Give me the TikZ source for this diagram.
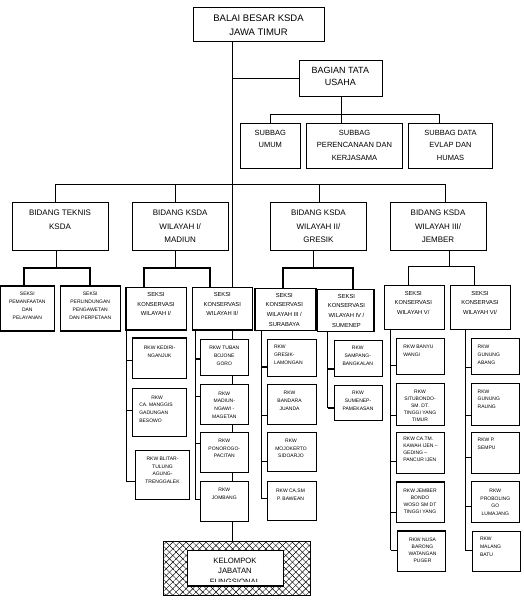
\documentclass[tikz,border=0pt]{standalone}
\usepackage{fontspec}
\setmainfont{Liberation Sans}
\usetikzlibrary{patterns.meta}
\newcommand\mkbox[9]{%
  \pgfmathsetmacro\bxw{#5-#3}\pgfmathsetmacro\bxh{#6-#4}%
  \node[#2,minimum width=\bxw pt,minimum height=\bxh pt,anchor=north west] (#1) at (#3,#4) {};
  \node[#7] (#1t) at #8 {#9};}
\newcommand\stub[5]{\coordinate (#1) at (#2,#3); \draw[#5] (#1) -- (#1 -| #4.west);}
\begin{document}
\begin{tikzpicture}[x=1pt,y=-1pt,
  box/.style={draw=black,line width=0.9pt,inner sep=0pt,outer sep=0pt,fill=white},
  sbox/.style={box,line width=1.3pt},
  ln/.style={line width=0.9pt},
  thk/.style={line width=1.7pt},
  txt/.style={inner sep=0pt,outer sep=0pt,align=center,anchor=north,yshift=-1.4pt},
  ltxt/.style={inner sep=0pt,outer sep=0pt,align=left,anchor=north west,yshift=-1.4pt},
  ttl/.style={txt,font=\fontsize{9.5}{13.3}\selectfont},
  btu/.style={txt,font=\fontsize{9}{11.7}\selectfont},
  sbg/.style={txt,font=\fontsize{7.5}{12.2}\selectfont},
  bdg/.style={txt,font=\fontsize{8}{13.3}\selectfont},
  skp/.style={txt,font=\fontsize{5}{7.9}\selectfont},
  sks/.style={txt,font=\fontsize{5.8}{9.6}\selectfont},
  rkw/.style={txt,font=\fontsize{5}{7.7}\selectfont},
  rkwl/.style={ltxt,font=\fontsize{5}{7.7}\selectfont},
  rkwn/.style={txt,font=\fontsize{5}{7.1}\selectfont},
  rkwln/.style={ltxt,font=\fontsize{5}{7}\selectfont},
  kel/.style={txt,font=\fontsize{7.7}{10.4}\selectfont},
]
\useasboundingbox[fill=white] (0,0) rectangle (523,602);

% top levels
\mkbox{top}{box}{193}{7.3}{324}{41.3}{ttl}{(258.5,13.9)}{BALAI BESAR KSDA\\JAWA TIMUR}
\mkbox{btu}{box}{299}{60.3}{382.3}{96.3}{btu}{(340.3,66.1)}{BAGIAN TATA\\USAHA}
\mkbox{sub1}{box}{240.3}{123.3}{300.3}{168.3}{sbg}{(270.3,129)}{SUBBAG\\UMUM}
\mkbox{sub2}{box}{306.3}{123.3}{402.7}{168.3}{sbg}{(354.5,129)}{SUBBAG\\PERENCANAAN DAN\\KERJASAMA}
\mkbox{sub3}{box}{408.3}{123.3}{492.7}{168.3}{sbg}{(450.5,129)}{SUBBAG DATA\\EVLAP DAN\\HUMAS}

% bidang
\mkbox{bt}{box}{12.3}{202.3}{108.3}{250.3}{bdg}{(60,208.8)}{BIDANG TEKNIS\\KSDA}
\mkbox{b1}{box}{132.3}{202.3}{228.3}{250.3}{bdg}{(180.2,208.8)}{BIDANG KSDA\\WILAYAH I/\\MADIUN}
\mkbox{b2}{box}{270.7}{202.3}{366.7}{250.3}{bdg}{(318.4,208.8)}{BIDANG KSDA\\WILAYAH II/\\GRESIK}
\mkbox{b3}{box}{390.3}{202.3}{486.7}{250.3}{bdg}{(438,208.8)}{BIDANG KSDA\\WILAYAH III/\\JEMBER}

% seksi
\mkbox{s1}{sbox}{0.8}{286}{54.3}{331}{skp}{(27.3,290.9)}{SEKSI\\PEMANFAATAN\\DAN\\PELAYANAN}
\mkbox{s2}{sbox}{60.3}{286}{120.3}{331}{skp}{(90.2,290.9)}{SEKSI\\PERLINDUNGAN\\PENGAWETAN\\DAN PERPETAAN}
\mkbox{s3}{sbox}{126}{287.3}{186.7}{330}{sks}{(156,291.2)}{SEKSI\\KONSERVASI\\WILAYAH I/}
\mkbox{s4}{sbox}{192.3}{287.3}{252.7}{330}{sks}{(222.3,291.2)}{SEKSI\\KONSERVASI\\WILAYAH II/}
\mkbox{s5}{sbox}{255}{288.3}{316}{330.7}{sks}{(284.3,291.9)}{SEKSI\\KONSERVASI\\WILAYAH III /\\SURABAYA}
\mkbox{s6}{sbox}{317.7}{289.3}{374}{331.7}{sks}{(346.5,292.9)}{SEKSI\\KONSERVASI\\WILAYAH IV /\\SUMENEP}
\mkbox{s7}{box}{384.3}{285}{444.3}{329.3}{sks}{(413.3,289.6)}{SEKSI\\KONSERVASI\\WILAYAH V/}
\mkbox{s8}{box}{450.7}{285}{510.7}{329.3}{sks}{(480,289.6)}{SEKSI\\KONSERVASI\\WILAYAH VI/}

% RKW wilayah I
\mkbox{k1}{box}{132.3}{338.3}{186.7}{378.3}{rkw}{(159.5,344.9)}{RKW KEDIRI-\\NGANJUK}
\mkbox{k2}{box}{132.3}{388.3}{186.7}{436.7}{rkwl}{(139.3,394.2)}{\hspace*{12pt}RKW\\CA. MANGGIS\\GADUNGAN\\BESOWO}
\mkbox{k3}{box}{135.7}{450}{189.3}{499.3}{rkw}{(162.5,455.5)}{RKW BLITAR-\\TULUNG\\AGUNG-\\TRENGGALEK}
% RKW wilayah II
\mkbox{m1}{box}{200.3}{339.3}{248.3}{375.7}{rkw}{(224.3,344.9)}{RKW TUBAN\\BOJONE\\GORO}
\mkbox{m2}{box}{200.3}{384.3}{248.3}{424.3}{rkw}{(224.3,390.2)}{RKW\\MADIUN-\\NGAWI -\\MAGETAN}
\mkbox{m3}{box}{200.3}{432.3}{248.3}{472.3}{rkw}{(224.3,437.5)}{RKW\\PONOROGO-\\PACITAN}
\mkbox{m4}{box}{200.3}{481}{248.3}{521}{rkw}{(224.3,486.5)}{RKW\\JOMBANG}
% RKW wilayah III
\mkbox{g1}{box}{267.3}{339.3}{316}{376.7}{rkwl}{(274,343.9)}{RKW\\GRESIK-\\LAMONGAN}
\mkbox{g2}{box}{267.3}{384.3}{316}{424.3}{rkw}{(289.5,389.9)}{RKW\\BANDARA\\JUANDA}
\mkbox{g3}{box}{267.3}{432.3}{316}{471.7}{rkw}{(291,437.5)}{RKW\\MOJOKERTO\\SIDOARJO}
\mkbox{g4}{box}{267.3}{481}{316}{520}{rkw}{(290.5,487.5)}{RKW CA.SM\\P. BAWEAN}
% RKW wilayah IV
\mkbox{p1}{box}{334.3}{340}{382.3}{376.7}{rkw}{(357.8,344.9)}{RKW\\SAMPANG-\\BANGKALAN}
\mkbox{p2}{box}{334.3}{385.7}{382.3}{420.7}{rkw}{(358,389.9)}{RKW\\SUMENEP-\\PAMEKASAN}
% RKW wilayah V
\mkbox{j1}{box}{396}{338.3}{444.3}{374.3}{rkwl}{(403.3,343.9)}{RKW BANYU\\WANGI}
\mkbox{j2}{box}{396}{383.3}{444.3}{425}{rkwn}{(420,388.2)}{RKW\\SITUBONDO-\\SM. DT.\\TINGGI YANG\\TIMUR}
\mkbox{j3}{box}{396}{432.3}{444.3}{473.3}{rkwln}{(403.3,435.9)}{RKW CA.TM.\\KAWAH IJEN –\\GEDING –\\PANCUR IJEN}
\mkbox{j4}{box}{396}{481.7}{444.3}{522.3}{rkwn}{(420,487.5)}{RKW JEMBER\\BONDO\\WOSO SM DT\\TINGGI YANG}
\mkbox{j5}{box}{397.3}{531}{445.7}{571}{rkwn}{(422.5,536.5)}{RKW NUSA\\BARONG\\WATANGAN\\PUGER}
% RKW wilayah VI
\mkbox{v1}{box}{471.7}{338.3}{519.3}{374.3}{rkwl}{(477.7,343.9)}{RKW\\GUNUNG\\ABANG}
\mkbox{v2}{box}{471.7}{383.3}{519.3}{425}{rkwl}{(477.7,388.2)}{RKW\\GUNUNG\\RAUNG}
\mkbox{v3}{box}{471.7}{432.3}{519.3}{473.3}{rkwl}{(477.7,436.5)}{RKW P.\\SEMPU}
\mkbox{v4}{box}{471.7}{481.7}{519.3}{522.3}{rkw}{(495.3,487.5)}{RKW\\PROBOLING\\GO\\LUMAJANG}
\mkbox{v5}{box}{472.3}{531}{520}{571}{rkwl}{(480,535.9)}{RKW\\MALANG\\BATU}

% thick top edges
\draw[thk] (k1.north west) -- (k1.north east);
\draw[thk] (j4.north west) -- (j4.north east);
\draw[thk] (j5.north west) -- (j5.north east);

% kelompok
\node[draw=black,line width=0.9pt,minimum width=146.7pt,minimum height=53.3pt,anchor=north west,inner sep=0pt,outer sep=0pt,
  pattern={Lines[angle=45,distance=4.7pt,line width=0.45pt]},
  postaction={pattern={Lines[angle=-45,distance=4.7pt,line width=0.45pt]}}] (kel) at (163.3,541.7) {};
\node[box,line width=1.2pt,minimum width=95.6pt,minimum height=35.3pt,anchor=north west] (kin) at (187.7,550.7) {};
\begin{scope}
\clip (188.5,551.5) rectangle (282.5,581.2);
\node[kel] (kint) at (235,556.5) {KELOMPOK\\JABATAN\\FUNGSIONAL};
\end{scope}

% main spine
\coordinate (sp) at (232.5,0);
\draw[ln] (top.south -| sp) -- (s4.north -| sp);
\draw[ln] (s4.south -| sp) -- (m1.north -| sp);
\draw[ln] (m1.south -| sp) -- (m2.north -| sp);
\draw[ln] (m2.south -| sp) -- (m3.north -| sp);
\draw[ln] (m3.south -| sp) -- (m4.north -| sp);
\draw[ln] (m4.south -| sp) -- (kel.north -| sp);
\draw[ln] (btu.west -| sp) -- (btu.west);

% tata usaha
\coordinate (tu) at (341.7,114.3);
\coordinate (sb1) at (270.7,114.3);
\coordinate (sb3) at (439.3,114.3);
\draw[ln] (btu.south -| tu) -- (sub2.north -| tu);
\draw[ln] (sb1 |- sub1.north) -- (sb1) -- (sb3) -- (sb3 |- sub3.north);

% bidang bus
\coordinate (bb1) at (55.3,184);
\coordinate (bb2) at (175.3,184);
\coordinate (bb3) at (319,184);
\coordinate (bb4) at (445,184);
\draw[ln] (bt.north -| bb1) -- (bb1) -- (bb4) -- (b3.north -| bb4);
\draw[ln] (bb2) -- (b1.north -| bb2);
\draw[ln] (bb3) -- (b2.north -| bb3);

% seksi buses
\coordinate (tv) at (56.3,267.7); \coordinate (tl) at (24.3,267.7); \coordinate (tr) at (90.3,267.7);
\draw[ln] (bt.south -| tv) -- (tv);
\draw[thk] (tl |- s1.north) -- (tl) -- (tr) -- (tr |- s2.north);
\coordinate (mv) at (175.3,267.7); \coordinate (ml) at (144.3,267.7); \coordinate (mr) at (210.3,267.7);
\draw[ln] (b1.south -| mv) -- (mv);
\draw[thk] (ml |- s3.north) -- (ml) -- (mr) -- (mr |- s4.north);
\coordinate (gv) at (313.3,267.7); \coordinate (gl) at (282.7,267.7); \coordinate (gr) at (353.3,267.7);
\draw[ln] (b2.south -| gv) -- (gv);
\draw[thk] (gl |- s5.north) -- (gl) -- (gr) -- (gr |- s6.north);
\coordinate (jv) at (449.3,266.7); \coordinate (jl) at (408.3,266.7); \coordinate (jr) at (474.3,266.7);
\draw[ln] (b3.south -| jv) -- (jv);
\draw[ln] (jl |- s7.north) -- (jl) -- (jr) -- (jr |- s8.north);

% wilayah I
\coordinate (w1) at (126.5,481.7);
\draw[ln] (s3.south -| w1) -- (w1);
\stub{w1a}{126.5}{360}{k1}{ln}
\stub{w1b}{126.5}{410}{k2}{ln}
\draw[ln] (w1) -- (w1 -| k3.west);
% wilayah II
\coordinate (w2) at (195,499);
\draw[ln] (s4.south -| w2) -- (w2);
\stub{w2a}{195}{359}{m1}{thk}
\stub{w2b}{195}{396.7}{m2}{ln}
\stub{w2c}{195}{443.3}{m3}{ln}
\draw[ln] (w2) -- (w2 -| m4.west);
% wilayah III
\coordinate (w3) at (261,498.3);
\draw[ln] (s5.south -| w3) -- (w3);
\stub{w3a}{261}{367.3}{g1}{thk}
\stub{w3b}{261}{415}{g2}{ln}
\stub{w3c}{261}{461.7}{g3}{ln}
\draw[ln] (w3) -- (w3 -| g4.west);
% wilayah IV
\coordinate (w4) at (327.7,407.7);
\draw[ln] (s6.south -| w4) -- (w4);
\stub{w4a}{327.7}{369}{p1}{thk}
\draw[thk] (w4) -- (w4 -| p2.west);
% wilayah V
\coordinate (w5) at (390.7,550);
\draw[ln] (s7.south -| w5) -- (w5);
\stub{w5a}{390.7}{365}{j1}{ln}
\stub{w5b}{390.7}{415}{j2}{ln}
\stub{w5c}{390.7}{461.7}{j3}{ln}
\stub{w5d}{390.7}{512.7}{j4}{ln}
\draw[ln] (w5) -- (w5 -| j5.west);
% wilayah VI
\coordinate (w6) at (465,550);
\draw[ln] (s8.south -| w6) -- (w6);
\stub{w6a}{465}{367.3}{v1}{ln}
\stub{w6b}{465}{415}{v2}{ln}
\stub{w6c}{465}{457.7}{v3}{ln}
\stub{w6d}{465}{506}{v4}{ln}
\draw[ln] (w6) -- (w6 -| v5.west);
\end{tikzpicture}
\end{document}
